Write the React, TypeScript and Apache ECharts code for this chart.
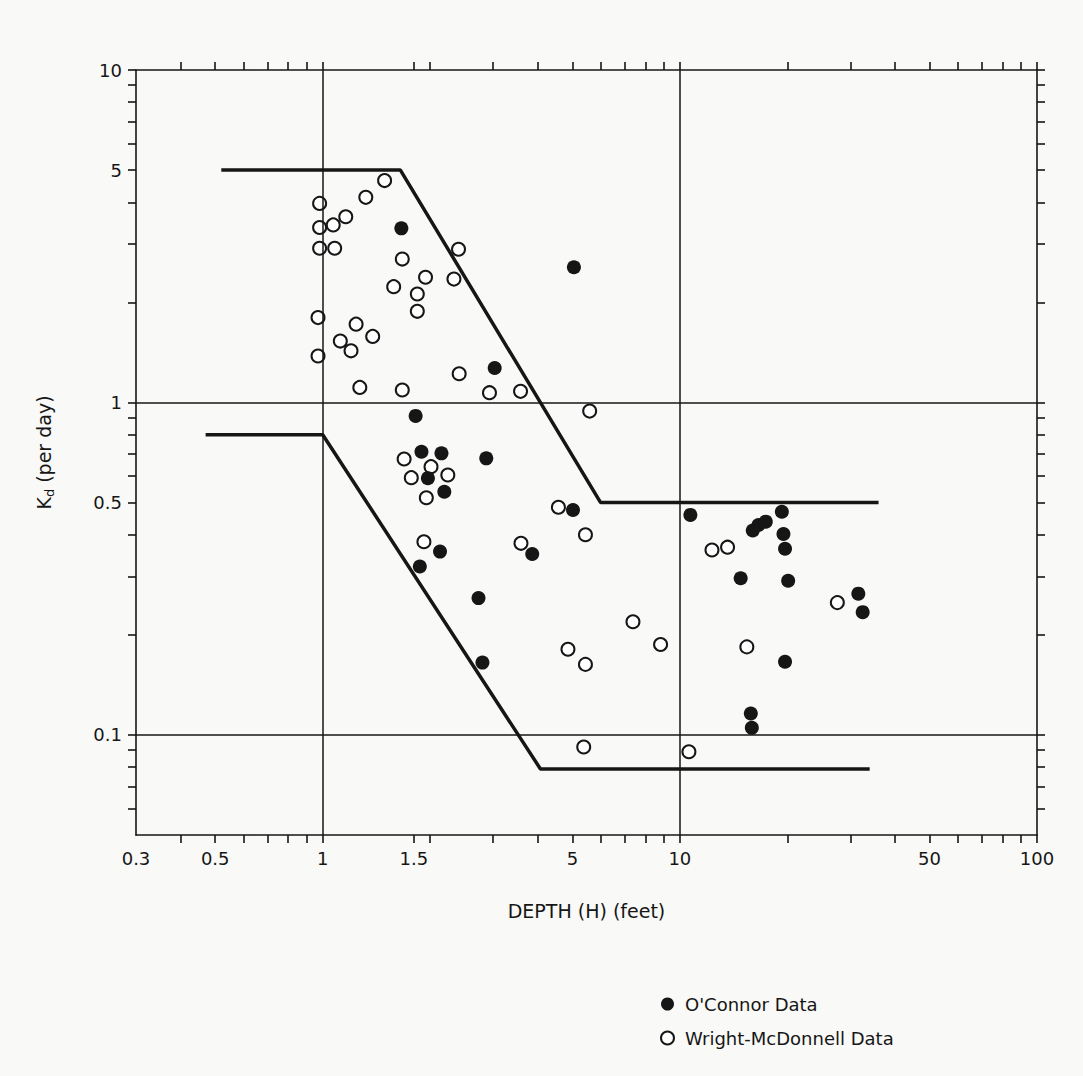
import React, { useEffect, useRef } from "react";
import * as echarts from "echarts";

// Wright-McDonnell data (open circles): depth H (feet), Kd (per day)
const wmDepth = [1.49, 1.32, 0.98, 1.16, 0.98, 1.07, 0.98, 1.08, 1.67, 2.40, 1.94, 1.58, 2.33, 1.84, 1.84, 0.97, 1.24, 1.38, 1.12, 1.20, 0.97, 2.41, 1.27, 1.67, 2.93, 3.58, 1.69, 2.01, 1.77, 2.24, 1.95, 1.92, 3.59, 5.59, 4.57, 5.44, 7.39, 8.83, 4.86, 5.44, 5.38, 12.3, 13.6, 27.6, 15.4, 10.6];
const wmKd = [4.65, 4.14, 3.97, 3.62, 3.36, 3.42, 2.91, 2.91, 2.70, 2.89, 2.38, 2.23, 2.35, 2.12, 1.88, 1.80, 1.72, 1.58, 1.53, 1.43, 1.38, 1.22, 1.11, 1.09, 1.07, 1.08, 0.676, 0.641, 0.594, 0.605, 0.517, 0.381, 0.377, 0.942, 0.484, 0.40, 0.219, 0.187, 0.181, 0.163, 0.092, 0.36, 0.367, 0.25, 0.184, 0.089];

// O'Connor data (filled circles)
const ocDepth = [1.66, 5.05, 3.03, 1.82, 1.89, 2.15, 2.87, 1.97, 2.19, 2.13, 1.87, 2.73, 2.80, 3.86, 5.02, 10.7, 16.0, 16.6, 17.4, 19.3, 19.5, 19.7, 14.8, 20.1, 31.6, 32.5, 19.7, 15.8, 15.9];
const ocKd = [3.34, 2.55, 1.27, 0.911, 0.711, 0.703, 0.679, 0.592, 0.539, 0.356, 0.321, 0.258, 0.165, 0.350, 0.475, 0.459, 0.412, 0.428, 0.438, 0.469, 0.402, 0.363, 0.296, 0.291, 0.266, 0.234, 0.166, 0.116, 0.105];

// Envelope lines
const upperDepth = [0.52, 1.65, 6.0, 36];
const upperKd = [5, 5, 0.5, 0.5];
const lowerDepth = [0.47, 1, 4.07, 34];
const lowerKd = [0.8, 0.8, 0.079, 0.079];

// Axes
const xRange = [0.3, 100];
const yRange = [0.05, 10];
const xTicks = [0.4, 0.5, 0.6, 0.7, 0.8, 0.9, 1, 1.8, 2, 3, 4, 5, 6, 7, 8, 9, 10, 20, 30, 40, 50, 60, 70, 80, 90, 100];
const yTicks = [0.06, 0.07, 0.08, 0.09, 0.1, 0.2, 0.3, 0.4, 0.5, 0.6, 0.7, 0.8, 0.9, 1, 2, 3, 4, 5, 6, 7, 8, 9, 10];
const xLabelValues = [0.3, 0.5, 1, 1.8, 5, 10, 50, 100];
const xLabelTexts = ["0.3", "0.5", "1", "1.5", "5", "10", "50", "100"];
const yLabelValues = [0.1, 0.5, 1, 5, 10];
const yLabelTexts = ["0.1", "0.5", "1", "5", "10"];
const gridDepths = [1, 10];
const gridKds = [0.1, 1];

const lg = Math.log10;
const pairs = (xs: number[], ys: number[]) => xs.map((x, i) => [lg(x), lg(ys[i])]);
const labelFor = (vals: number[], texts: string[]) => (v: number) => {
  const i = vals.findIndex((u) => Math.abs(lg(u) - v) < 1e-6);
  return i >= 0 ? texts[i] : "";
};

const FONT = "DejaVu Sans";
const INK = "#161616";
const BG = "#f9f9f7";

export default function App() {
  const ref = useRef<HTMLDivElement>(null);
  useEffect(() => {
    if (!ref.current) return;
    const chart = echarts.init(ref.current, null, { renderer: "svg" });
    const lineStyle = { color: INK, width: 1.6 };
    const xBase = {
      type: "value",
      min: lg(xRange[0]),
      max: lg(xRange[1]),
      axisLine: { show: true, onZero: false, lineStyle },
      axisTick: { show: true, length: 8, customValues: xTicks.map(lg), lineStyle },
      splitLine: { show: false },
    };
    const yBase = {
      type: "value",
      min: lg(yRange[0]),
      max: lg(yRange[1]),
      axisLine: { show: true, onZero: false, lineStyle },
      axisTick: { show: true, length: 8, customValues: yTicks.map(lg), lineStyle },
      splitLine: { show: false },
    };
    const labelStyle = { fontFamily: FONT, fontSize: 18, color: INK };
    chart.setOption({
      animation: false,
      backgroundColor: BG,
      grid: { left: 136, right: 46, top: 70, bottom: 241, outerBoundsMode: "none" },
      xAxis: [
        {
          ...xBase,
          position: "bottom",
          axisLabel: {
            ...labelStyle,
            margin: 14,
            customValues: xLabelValues.map(lg),
            formatter: labelFor(xLabelValues, xLabelTexts),
          },
          name: "DEPTH (H) (feet)",
          nameLocation: "middle",
          nameGap: 66,
          nameTextStyle: { fontFamily: FONT, fontSize: 19, color: INK },
        },
        { ...xBase, position: "top", axisLabel: { show: false } },
      ],
      yAxis: [
        {
          ...yBase,
          position: "left",
          axisLabel: {
            ...labelStyle,
            margin: 14,
            customValues: yLabelValues.map(lg),
            formatter: labelFor(yLabelValues, yLabelTexts),
          },
          name: "K{sub|d} (per day)",
          nameLocation: "middle",
          nameGap: 80,
          nameTextStyle: {
            fontFamily: FONT,
            fontSize: 19,
            color: INK,
            lineHeight: 24,
            rich: { sub: { fontFamily: FONT, fontSize: 13, color: INK, verticalAlign: "bottom", lineHeight: 24, padding: [7, 0, 0, 0] } },
          },
        },
        { ...yBase, position: "right", axisLabel: { show: false } },
      ],
      legend: {
        data: ["O'Connor Data", "Wright-McDonnell Data"],
        orient: "vertical",
        left: 655,
        top: 990,
        itemWidth: 13,
        itemHeight: 13,
        itemGap: 16,
        icon: "circle",
        textStyle: { fontFamily: FONT, fontSize: 18, color: INK, padding: [0, 0, 0, 6] },
      },
      series: [
        {
          name: "grid",
          type: "line",
          data: [],
          z: 1,
          markLine: {
            silent: true,
            symbol: ["none", "none"],
            label: { show: false },
            lineStyle: { color: INK, width: 1.5, type: "solid" },
            emphasis: { disabled: true },
            data: [
              ...gridDepths.map((d) => ({ xAxis: lg(d) })),
              ...gridKds.map((k) => ({ yAxis: lg(k) })),
            ],
          },
        },
        {
          name: "upper",
          type: "line",
          data: pairs(upperDepth, upperKd),
          symbol: "none",
          z: 1,
          lineStyle: { color: INK, width: 3.5 },
          silent: true,
        },
        {
          name: "lower",
          type: "line",
          data: pairs(lowerDepth, lowerKd),
          symbol: "none",
          z: 1,
          lineStyle: { color: INK, width: 3.5 },
          silent: true,
        },
        {
          name: "Wright-McDonnell Data",
          type: "scatter",
          data: pairs(wmDepth, wmKd),
          symbol: "circle",
          symbolSize: 13,
          z: 3,
          itemStyle: { color: "#ffffff", borderColor: INK, borderWidth: 2, opacity: 1 },
        },
        {
          name: "O'Connor Data",
          type: "scatter",
          data: pairs(ocDepth, ocKd),
          symbol: "circle",
          symbolSize: 14,
          z: 4,
          itemStyle: { color: INK, opacity: 1 },
        },
      ],
    });
    return () => chart.dispose();
  }, []);
  return (
    <div
      ref={ref}
      style={{ position: "absolute", left: 0, top: 0, width: 1083, height: 1076, background: BG }}
    />
  );
}
